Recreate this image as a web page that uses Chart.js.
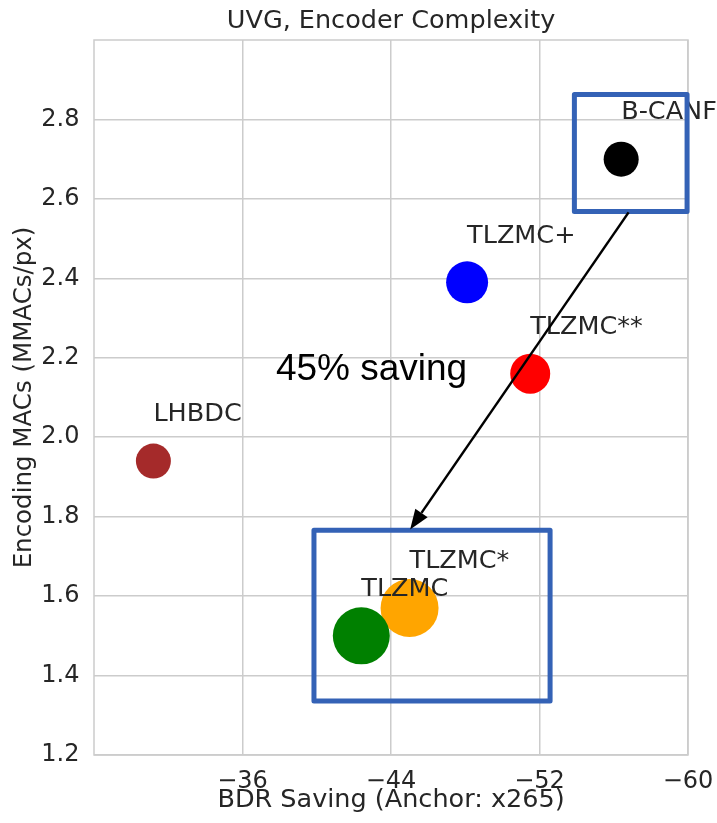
<!DOCTYPE html>
<html>
<head>
<meta charset="utf-8">
<script src="https://cdn.jsdelivr.net/npm/chart.js@4.4.1/dist/chart.umd.min.js"></script>
<style>
  html, body { margin: 0; padding: 0; background: #fff; }
  #wrap { width: 717px; height: 823px; position: relative; }
</style>
</head>
<body>
<div id="wrap"><canvas id="chart"></canvas></div>
<script>
// Encoder complexity vs. rate saving on UVG
const methods = ["B-CANF", "TLZMC+", "TLZMC**", "LHBDC", "TLZMC*", "TLZMC"];
const bdrSaving = [-56.4, -48.1, -51.5, -31.2, -45.0, -42.4];
const encMacs = [2.70, 2.39, 2.16, 1.94, 1.57, 1.50];
const dotSize = [17.5, 21, 20, 17.5, 29, 28.5];
const dotColors = ["#000000", "#0000ff", "#ff0000", "#a52a2a", "#ffa500", "#008000"];
const xTicks = [-36, -44, -52, -60];
const yTicks = [1.2, 1.4, 1.6, 1.8, 2.0, 2.2, 2.4, 2.6, 2.8];
const chartTitle = "UVG, Encoder Complexity";

// highlight boxes and arrow, in data units: [x0, y0, x1, y1]
const boxBefore = [-53.88, 2.568, -59.95, 2.863];
const boxAfter = [-39.85, 1.336, -52.57, 1.766];
const arrowLine = [-56.8, 2.566, -45.03, 1.768];
const savingNote = "45% saving";
const savingAt = [-37.8, 2.143];

const textColor = "#262626";
const gridColor = "#cccccc";
const tickFont = '24px "DejaVu Sans"';

const overlay = {
  id: "overlay",
  beforeDatasetsDraw(chart) {
    const { ctx, chartArea: a, scales: { x } } = chart;
    ctx.save();
    ctx.strokeStyle = gridColor;
    ctx.lineWidth = 1.5;
    ctx.strokeRect(a.left, a.top, a.right - a.left, a.bottom - a.top);
    // title centred over the plot area
    ctx.font = '25.5px "DejaVu Sans"';
    ctx.fillStyle = textColor;
    ctx.textAlign = "center";
    ctx.textBaseline = "middle";
    ctx.fillText(chartTitle, (a.left + a.right) / 2, 21.5);
    // x tick labels drawn here so the last one can hang past the plot edge
    ctx.font = tickFont;
    xTicks.forEach(v => ctx.fillText("\u2212" + Math.abs(v), x.getPixelForValue(v), a.bottom + 26.4));
    ctx.restore();
  },
  afterDatasetsDraw(chart) {
    const { ctx, scales: { x, y } } = chart;
    const px = v => x.getPixelForValue(v);
    const py = v => y.getPixelForValue(v);
    ctx.save();

    // method names sit 0.1 above each dot
    ctx.font = '25.5px "DejaVu Sans"';
    ctx.fillStyle = textColor;
    ctx.textAlign = "left";
    ctx.textBaseline = "alphabetic";
    methods.forEach((m, i) => ctx.fillText(m, px(bdrSaving[i]), py(encMacs[i] + 0.1)));

    // boxes
    ctx.strokeStyle = "#3462b6";
    ctx.lineWidth = 5;
    ctx.lineJoin = "round";
    [boxBefore, boxAfter].forEach(b => {
      const x0 = px(b[0]), y0 = py(b[3]);
      ctx.strokeRect(x0, y0, px(b[2]) - x0, py(b[1]) - y0);
    });

    // arrow
    const sx = px(arrowLine[0]), sy = py(arrowLine[1]);
    const ex = px(arrowLine[2]), ey = py(arrowLine[3]);
    const ang = Math.atan2(ey - sy, ex - sx);
    const headLen = 20, headHalf = 7.5;
    const bx = ex - headLen * Math.cos(ang), by = ey - headLen * Math.sin(ang);
    ctx.strokeStyle = "#000";
    ctx.fillStyle = "#000";
    ctx.lineWidth = 2.5;
    ctx.beginPath();
    ctx.moveTo(sx, sy);
    ctx.lineTo(bx, by);
    ctx.stroke();
    ctx.beginPath();
    ctx.moveTo(ex, ey);
    ctx.lineTo(bx + headHalf * Math.sin(ang), by - headHalf * Math.cos(ang));
    ctx.lineTo(bx - headHalf * Math.sin(ang), by + headHalf * Math.cos(ang));
    ctx.closePath();
    ctx.fill();

    ctx.font = '37px "Liberation Sans"';
    ctx.fillText(savingNote, px(savingAt[0]), py(savingAt[1]));
    ctx.restore();
  }
};

new Chart(document.getElementById("chart"), {
  type: "bubble",
  data: {
    datasets: [{
      data: methods.map((m, i) => ({ x: bdrSaving[i], y: encMacs[i], r: dotSize[i] })),
      backgroundColor: dotColors,
      borderWidth: 0,
      hoverRadius: 0
    }]
  },
  options: {
    responsive: true,
    maintainAspectRatio: false,
    animation: false,
    events: [],
    layout: { padding: { left: 0, right: 26, top: 40, bottom: 0 } },
    plugins: {
      legend: { display: false },
      tooltip: { enabled: false },
      title: { display: false }
    },
    scales: {
      x: {
        type: "linear",
        min: -60,
        max: -28,
        reverse: true,
        afterBuildTicks: s => { s.ticks = xTicks.map(v => ({ value: v })); },
        afterFit: s => { s.height = 68; },
        grid: { color: gridColor, lineWidth: 1.5, drawTicks: false },
        border: { display: false },
        ticks: { display: false },
        title: {
          display: true,
          text: "BDR Saving (Anchor: x265)",
          color: textColor,
          font: { family: "DejaVu Sans", size: 25.5 },
          padding: { top: 0, bottom: 7 }
        }
      },
      y: {
        type: "linear",
        min: 1.2,
        max: 3.0,
        afterBuildTicks: s => { s.ticks = yTicks.map(v => ({ value: v })); },
        afterFit: s => { s.width = 94; },
        grid: { color: gridColor, lineWidth: 1.5, drawTicks: false },
        border: { display: false },
        ticks: {
          color: textColor,
          padding: 14.5,
          autoSkip: false,
          font: { family: "DejaVu Sans", size: 24 },
          callback: v => v.toFixed(1)
        },
        title: {
          display: true,
          text: "Encoding MACs (MMACs/px)",
          color: textColor,
          font: { family: "DejaVu Sans", size: 24.5 },
          padding: { top: 10, bottom: 0 }
        }
      }
    }
  },
  plugins: [overlay]
});
</script>
</body>
</html>
